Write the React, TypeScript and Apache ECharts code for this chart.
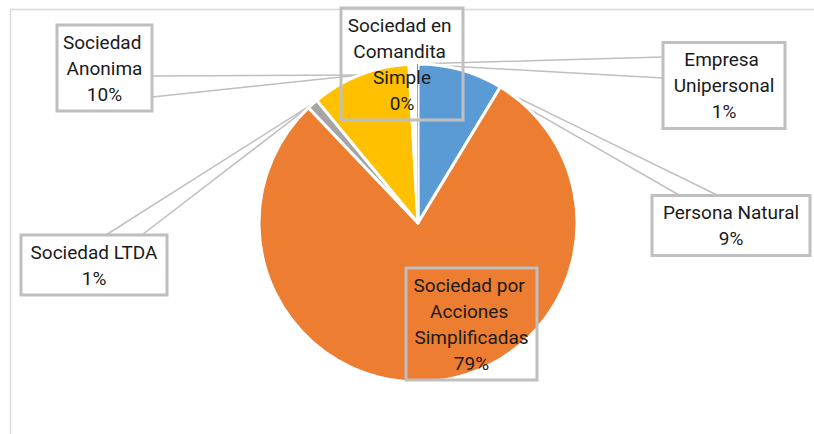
import React, { useEffect, useRef } from 'react';
import * as echarts from 'echarts';

// Data (clockwise from 12 o'clock)
const categories = [
  'Persona Natural',
  'Sociedad por Acciones Simplificadas',
  'Sociedad LTDA',
  'Sociedad Anonima',
  'Empresa Unipersonal',
  'Sociedad en Comandita Simple',
];
const values = [8.6, 78.7, 1.1, 10.0, 0.8, 0.1];
const colors = ['#5B9BD5', '#ED7D31', '#A5A5A5', '#FFC000', '#FFFFFF', '#70AD47'];

// Label box layout (center x, center y, width) and leader-line attach points
const labelBoxes = [
  { cx: 731, cy: 225.5, w: 158 },
  { cx: 471.5, cy: 324, w: 131 },
  { cx: 94, cy: 265, w: 146 },
  { cx: 104.5, cy: 68, w: 95 },
  { cx: 724, cy: 85.5, w: 122 },
  { cx: 402, cy: 64, w: 122 },
];
const attachA: (number[] | null)[] = [[679, 195], null, [106, 235], [152, 76], [663, 57], null];
const attachB: (number[] | null)[] = [[717, 195], null, [142, 235], [152, 97], [663, 78], null];

const FONT = 'Roboto, sans-serif';
const LINE = '#BFBFBF';

function makeLayout(attach: (number[] | null)[]) {
  return (params: any) => {
    const i = params.dataIndex;
    const b = labelBoxes[i];
    const res: any = { x: b.cx, y: b.cy, align: 'center', verticalAlign: 'middle' };
    const a = attach[i];
    const pts = params.labelLinePoints;
    if (a && pts && pts.length) {
      const p0 = pts[0];
      res.labelLinePoints = [p0, [(p0[0] + a[0]) / 2, (p0[1] + a[1]) / 2], a];
    }
    return res;
  };
}

export default function App() {
  const ref = useRef<HTMLDivElement>(null);
  useEffect(() => {
    document.body.style.margin = '0';
    if (!ref.current) return;
    const chart = echarts.init(ref.current, undefined, { renderer: 'svg' });
    const dataA = categories.map((name, i) => ({
      name,
      value: values[i],
      itemStyle: { color: colors[i], borderWidth: i === 5 ? 0 : 3 },
      label: { width: labelBoxes[i].w },
      labelLine: { show: !!attachA[i] },
    }));
    const dataB = categories.map((name, i) => ({
      name,
      value: values[i],
      labelLine: { show: !!attachB[i] },
    }));
    chart.setOption({
      animation: false,
      backgroundColor: '#ffffff',
      graphic: [
        {
          type: 'rect',
          z: -10,
          shape: { x: 10.5, y: 9.5, width: 900, height: 500 },
          style: { fill: 'none', stroke: '#D9D9D9', lineWidth: 1.5 },
        },
      ],
      series: [
        {
          type: 'pie',
          center: [418, 223],
          radius: 159,
          startAngle: 90,
          clockwise: true,
          avoidLabelOverlap: false,
          silent: true,
          emphasis: { disabled: true },
          itemStyle: { borderColor: '#ffffff', borderWidth: 3 },
          label: {
            show: true,
            position: 'outside',
            formatter: (p: any) => `${p.name}\n${Math.round(p.percent)}%`,
            fontFamily: FONT,
            fontSize: 19,
            lineHeight: 26,
            color: '#1a1a1a',
            overflow: 'break',
            padding: [4, 0],
            borderColor: LINE,
            borderWidth: 1.5,
            backgroundColor: 'transparent',
          },
          labelLine: { show: true, lineStyle: { color: LINE, width: 1.5 } },
          labelLayout: makeLayout(attachA),
          data: dataA,
        },
        {
          type: 'pie',
          center: [418, 223],
          radius: 159,
          startAngle: 90,
          clockwise: true,
          avoidLabelOverlap: false,
          silent: true,
          emphasis: { disabled: true },
          itemStyle: { color: 'rgba(0,0,0,0)', borderWidth: 0 },
          label: {
            show: true,
            position: 'outside',
            formatter: '.',
            color: 'rgba(0,0,0,0)',
            fontSize: 6,
          },
          labelLine: { show: true, lineStyle: { color: LINE, width: 1.5 } },
          labelLayout: makeLayout(attachB),
          data: dataB,
        },
      ],
    });
    return () => chart.dispose();
  }, []);
  return <div ref={ref} style={{ width: 814, height: 434 }} />;
}
